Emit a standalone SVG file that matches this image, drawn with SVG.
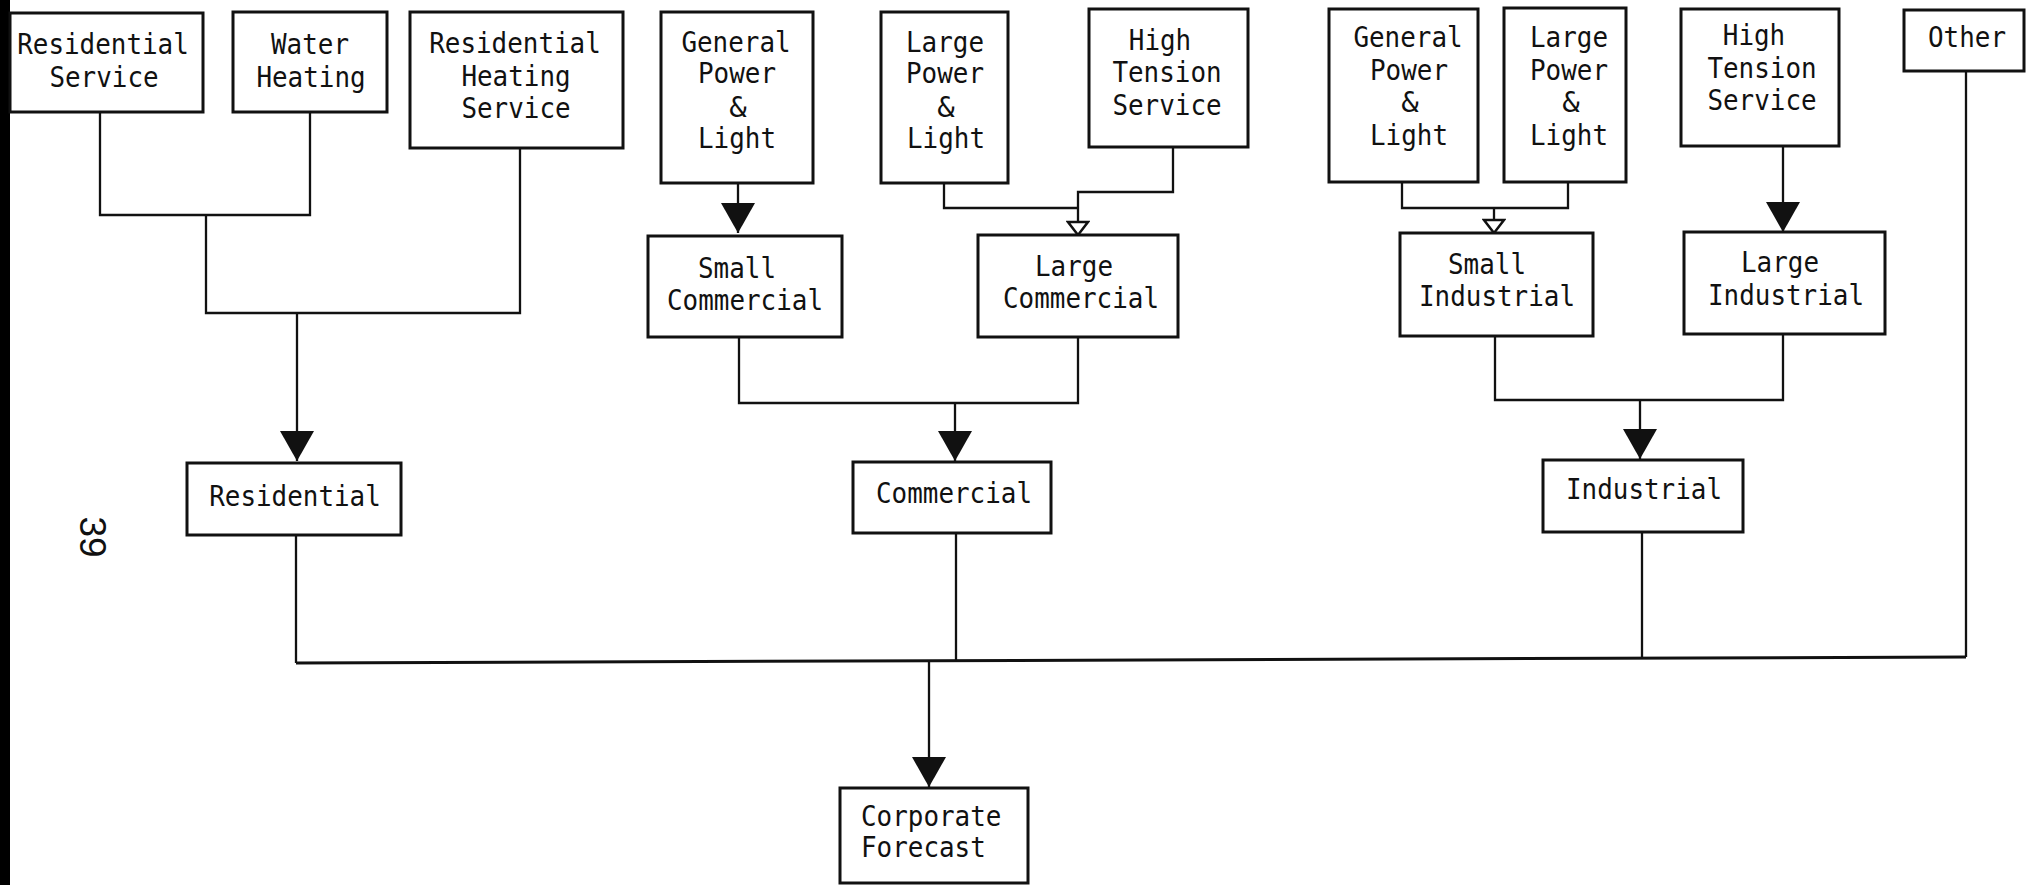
<svg xmlns="http://www.w3.org/2000/svg" width="2027" height="885" viewBox="0 0 2027 885">
<style>
.box{fill:#fff;stroke:#111;stroke-width:3}
.t{font-family:"DejaVu Sans Mono","Liberation Mono",monospace;font-size:29px;fill:#111;text-anchor:middle}
.ts{font-family:"DejaVu Sans Mono","Liberation Mono",monospace;font-size:29px;fill:#111;text-anchor:start}
.ln{fill:none;stroke:#111;stroke-width:2.3}
.bus{fill:none;stroke:#111;stroke-width:3}
.pg{font-family:"Liberation Sans",Arial,sans-serif;font-size:37px;fill:#111;text-anchor:middle}
</style>
<defs>
<marker id="big" markerUnits="userSpaceOnUse" viewBox="0 0 30 34" refX="30" refY="17" markerWidth="30" markerHeight="34" orient="auto">
<path d="M0,0 L30,17 L0,34 Z" fill="#111"/>
</marker>
<marker id="small" markerUnits="userSpaceOnUse" viewBox="-2 -2 17 24" refX="13" refY="10" markerWidth="17" markerHeight="24" orient="auto">
<path d="M0,0 L13,10 L0,20 Z" fill="#fff" stroke="#111" stroke-width="2.5"/>
</marker>
</defs>
<rect x="0" y="0" width="2027" height="885" fill="#fff"/>
<rect x="0" y="0" width="10" height="885" fill="#000"/>
<text class="pg" x="80" y="537" transform="rotate(90 80 537)">39</text>

<g id="connectors">
<path class="ln" d="M100,112 V215 H310 V112"/>
<path class="ln" d="M206,215 V313 H520 V148"/>
<path class="ln" d="M297,313 V461" marker-end="url(#big)"/>
<path class="ln" d="M738,183 V233" marker-end="url(#big)"/>
<path class="ln" d="M944,183 V208 H1078"/>
<path class="ln" d="M1173,147 V192 H1078 V235" marker-end="url(#small)"/>
<path class="ln" d="M739,337 V403 H1078 V337"/>
<path class="ln" d="M955,403 V461" marker-end="url(#big)"/>
<path class="ln" d="M1402,182 V208 H1568 V182"/>
<path class="ln" d="M1494,208 V233" marker-end="url(#small)"/>
<path class="ln" d="M1783,146 V232" marker-end="url(#big)"/>
<path class="ln" d="M1495,336 V400 H1783 V334"/>
<path class="ln" d="M1640,400 V459" marker-end="url(#big)"/>
<path class="ln" d="M296,535 V663"/>
<path class="ln" d="M956,533 V662"/>
<path class="ln" d="M1642,532 V659"/>
<path class="ln" d="M1966,71 V657"/>
<path class="bus" d="M296,663 L1966,657"/>
<path class="ln" d="M929,662 V787" marker-end="url(#big)"/>
</g>

<g id="residential_service">
<rect class="box" x="10" y="13" width="193" height="99"/>
<text class="t" x="103" y="54" textLength="171.6" lengthAdjust="spacingAndGlyphs">Residential</text>
<text class="t" x="104" y="87" textLength="109.2" lengthAdjust="spacingAndGlyphs">Service</text>
</g>
<g id="water_heating">
<rect class="box" x="233" y="12" width="154" height="100"/>
<text class="t" x="310" y="54" textLength="78" lengthAdjust="spacingAndGlyphs">Water</text>
<text class="t" x="311" y="87" textLength="109.2" lengthAdjust="spacingAndGlyphs">Heating</text>
</g>
<g id="residential_heating_service">
<rect class="box" x="410" y="12" width="213" height="136"/>
<text class="t" x="515" y="53" textLength="171.6" lengthAdjust="spacingAndGlyphs">Residential</text>
<text class="t" x="516" y="86" textLength="109.2" lengthAdjust="spacingAndGlyphs">Heating</text>
<text class="t" x="516" y="118" textLength="109.2" lengthAdjust="spacingAndGlyphs">Service</text>
</g>
<g id="comm_general_power_light">
<rect class="box" x="661" y="12" width="152" height="171"/>
<text class="t" x="736" y="52" textLength="109.2" lengthAdjust="spacingAndGlyphs">General</text>
<text class="t" x="737" y="83" textLength="78" lengthAdjust="spacingAndGlyphs">Power</text>
<text class="t" x="738" y="117">&amp;</text>
<text class="t" x="737" y="148" textLength="78" lengthAdjust="spacingAndGlyphs">Light</text>
</g>
<g id="comm_large_power_light">
<rect class="box" x="881" y="12" width="127" height="171"/>
<text class="t" x="945" y="52" textLength="78" lengthAdjust="spacingAndGlyphs">Large</text>
<text class="t" x="945" y="83" textLength="78" lengthAdjust="spacingAndGlyphs">Power</text>
<text class="t" x="946" y="117">&amp;</text>
<text class="t" x="946" y="148" textLength="78" lengthAdjust="spacingAndGlyphs">Light</text>
</g>
<g id="comm_high_tension">
<rect class="box" x="1089" y="9" width="159" height="138"/>
<text class="t" x="1160" y="50" textLength="62.4" lengthAdjust="spacingAndGlyphs">High</text>
<text class="t" x="1167" y="82" textLength="109.2" lengthAdjust="spacingAndGlyphs">Tension</text>
<text class="t" x="1167" y="115" textLength="109.2" lengthAdjust="spacingAndGlyphs">Service</text>
</g>
<g id="small_commercial">
<rect class="box" x="648" y="236" width="194" height="101"/>
<text class="t" x="737" y="278" textLength="78" lengthAdjust="spacingAndGlyphs">Small</text>
<text class="t" x="745" y="310" textLength="156" lengthAdjust="spacingAndGlyphs">Commercial</text>
</g>
<g id="large_commercial">
<rect class="box" x="978" y="235" width="200" height="102"/>
<text class="t" x="1074" y="276" textLength="78" lengthAdjust="spacingAndGlyphs">Large</text>
<text class="t" x="1081" y="308" textLength="156" lengthAdjust="spacingAndGlyphs">Commercial</text>
</g>
<g id="ind_general_power_light">
<rect class="box" x="1329" y="9" width="149" height="173"/>
<text class="t" x="1408" y="47" textLength="109.2" lengthAdjust="spacingAndGlyphs">General</text>
<text class="t" x="1409" y="80" textLength="78" lengthAdjust="spacingAndGlyphs">Power</text>
<text class="t" x="1410" y="112">&amp;</text>
<text class="t" x="1409" y="145" textLength="78" lengthAdjust="spacingAndGlyphs">Light</text>
</g>
<g id="ind_large_power_light">
<rect class="box" x="1504" y="8" width="122" height="174"/>
<text class="t" x="1569" y="47" textLength="78" lengthAdjust="spacingAndGlyphs">Large</text>
<text class="t" x="1569" y="80" textLength="78" lengthAdjust="spacingAndGlyphs">Power</text>
<text class="t" x="1571" y="112">&amp;</text>
<text class="t" x="1569" y="145" textLength="78" lengthAdjust="spacingAndGlyphs">Light</text>
</g>
<g id="ind_high_tension">
<rect class="box" x="1681" y="9" width="158" height="137"/>
<text class="t" x="1754" y="45" textLength="62.4" lengthAdjust="spacingAndGlyphs">High</text>
<text class="t" x="1762" y="78" textLength="109.2" lengthAdjust="spacingAndGlyphs">Tension</text>
<text class="t" x="1762" y="110" textLength="109.2" lengthAdjust="spacingAndGlyphs">Service</text>
</g>
<g id="other">
<rect class="box" x="1904" y="10" width="120" height="61"/>
<text class="t" x="1967" y="47" textLength="78" lengthAdjust="spacingAndGlyphs">Other</text>
</g>
<g id="small_industrial">
<rect class="box" x="1400" y="233" width="193" height="103"/>
<text class="t" x="1487" y="274" textLength="78" lengthAdjust="spacingAndGlyphs">Small</text>
<text class="t" x="1497" y="306" textLength="156" lengthAdjust="spacingAndGlyphs">Industrial</text>
</g>
<g id="large_industrial">
<rect class="box" x="1684" y="232" width="201" height="102"/>
<text class="t" x="1780" y="272" textLength="78" lengthAdjust="spacingAndGlyphs">Large</text>
<text class="t" x="1786" y="305" textLength="156" lengthAdjust="spacingAndGlyphs">Industrial</text>
</g>
<g id="residential">
<rect class="box" x="187" y="463" width="214" height="72"/>
<text class="t" x="295" y="506" textLength="171.6" lengthAdjust="spacingAndGlyphs">Residential</text>
</g>
<g id="commercial">
<rect class="box" x="853" y="462" width="198" height="71"/>
<text class="t" x="954" y="503" textLength="156" lengthAdjust="spacingAndGlyphs">Commercial</text>
</g>
<g id="industrial">
<rect class="box" x="1543" y="460" width="200" height="72"/>
<text class="t" x="1644" y="499" textLength="156" lengthAdjust="spacingAndGlyphs">Industrial</text>
</g>
<g id="corporate_forecast">
<rect class="box" x="840" y="788" width="188" height="95"/>
<text class="ts" x="861" y="826" textLength="140.4" lengthAdjust="spacingAndGlyphs">Corporate</text>
<text class="ts" x="861" y="857" textLength="124.8" lengthAdjust="spacingAndGlyphs">Forecast</text>
</g>
</svg>
